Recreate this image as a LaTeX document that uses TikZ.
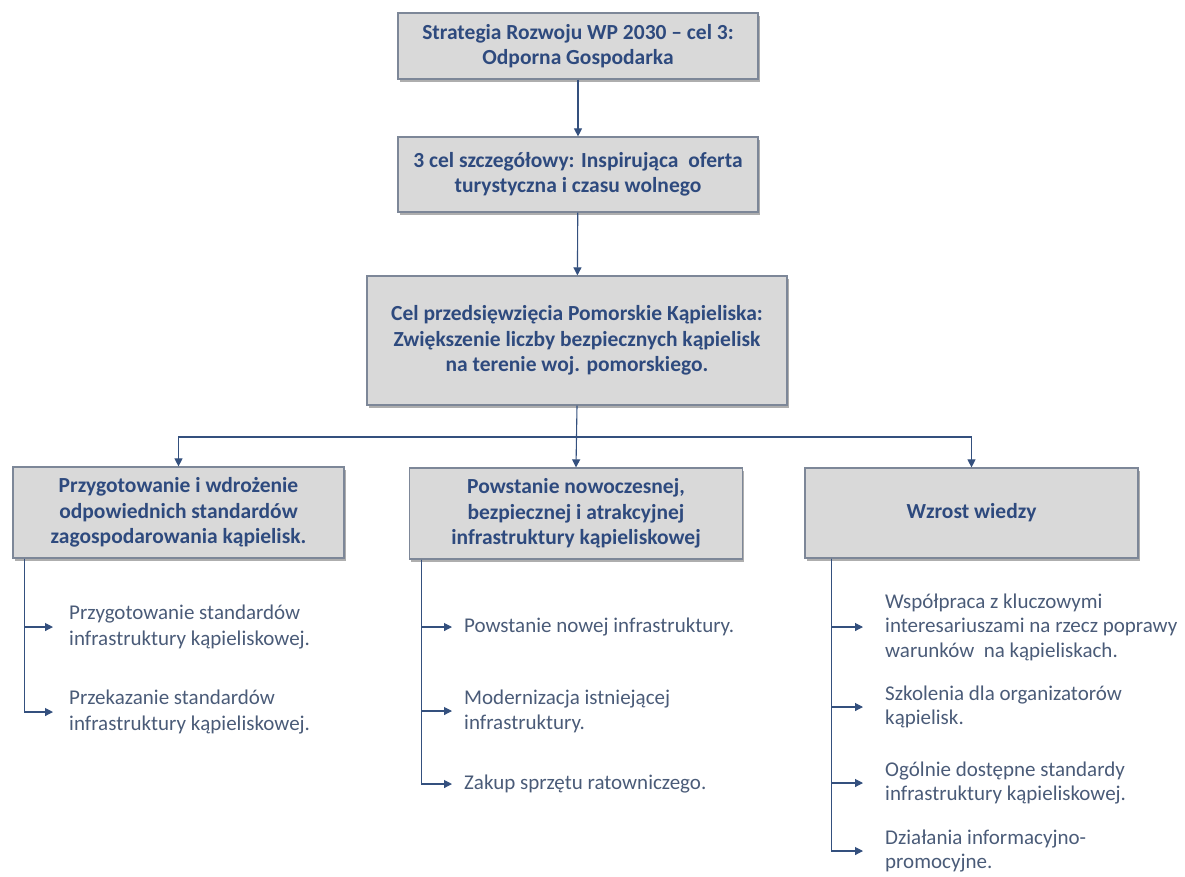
\documentclass[tikz,border=0pt]{standalone}
\usepackage{fontspec}
\setmainfont{Carlito}
\usetikzlibrary{shadows,arrows.meta}
\definecolor{boxtxt}{HTML}{2E4A7E}
\definecolor{itemtxt}{HTML}{4A5B78}
\definecolor{lineclr}{HTML}{34507E}
\definecolor{boxfill}{HTML}{D9D9D9}
\definecolor{boxdraw}{HTML}{7D8798}
\tikzset{
  box/.style={draw=boxdraw, line width=1.2pt, fill=boxfill, align=center,
    text=boxtxt, font=\fontsize{21.5}{25.5}\selectfont\bfseries, inner sep=0pt,
    drop shadow={shadow xshift=1.5pt, shadow yshift=-3pt, opacity=0.45, fill=black!70}},
  item/.style={anchor=west, align=left, text=itemtxt, inner xsep=16pt, inner ysep=0pt,
    font=\fontsize{21}{26}\selectfont},
  ritem/.style={item, inner xsep=22pt, font=\fontsize{21}{24.5}\selectfont},
  mitem/.style={item, inner xsep=12pt, font=\fontsize{21}{25}\selectfont},
  arr/.style={draw=lineclr, line width=1.1pt, -{Triangle[length=8pt,width=8pt]}}
}
\begin{document}
\begin{tikzpicture}[x=1pt,y=-1pt]
\useasboundingbox (0,0) rectangle (1185,876);
\node[box, minimum width=360pt, minimum height=66pt] (b1) at (578,46) {Strategia Rozwoju WP 2030 – cel 3:\\Odporna Gospodarka};
\node[box, minimum width=360pt, minimum height=75pt] (b2) at (578,174.5) {3 cel szczegółowy: Inspirująca\ \ oferta\\turystyczna i czasu wolnego};
\node[box, minimum width=420pt, minimum height=129pt] (b3) at (577,340.5) {Cel przedsięwzięcia Pomorskie Kąpieliska:\\Zwiększenie liczby bezpiecznych kąpielisk\\na terenie woj. pomorskiego.};
\node[box, minimum width=331pt, minimum height=91pt] (b4) at (178.5,512.5) {Przygotowanie i wdrożenie\\odpowiednich standardów\\zagospodarowania kąpielisk.};
\node[box, minimum width=333pt, minimum height=91pt] (b5) at (576,513.5) {Powstanie nowoczesnej,\\bezpiecznej i atrakcyjnej\\infrastruktury kąpieliskowej};
\node[box, minimum width=333pt, minimum height=90pt] (b6) at (971.5,513) {Wzrost wiedzy};
\coordinate (j) at (577,437);
\draw[arr] (b1) -- (b2);
\draw[arr] (b2) -- (b3);
\draw[arr] (b3.south) -- (b5.north);
\draw[arr] (b3.south |- j) -| (b4.north);
\draw[arr] (b3.south |- j) -| (b6.north);
% left items
\node[item] (l1) at (53,627) {Przygotowanie standardów\\infrastruktury kąpieliskowej.};
\node[item] (l2) at (53,712) {Przekazanie standardów\\infrastruktury kąpieliskowej.};
\coordinate (lv) at ([xshift=12pt]b4.south west);
\draw[arr] (lv) |- (l1.west);
\draw[arr] (lv) |- (l2.west);
% middle items
\node[mitem] (m1) at (452,627) {Powstanie nowej infrastruktury.};
\node[mitem] (m2) at (452,711) {Modernizacja istniejącej\\infrastruktury.};
\node[mitem] (m3) at (452,784) {Zakup sprzętu ratowniczego.};
\coordinate (mv) at ([xshift=13pt]b5.south west);
\draw[arr] (mv) |- (m1.west);
\draw[arr] (mv) |- (m2.west);
\draw[arr] (mv) |- (m3.west);
% right items
\node[ritem] (r1) at (863,627) {Współpraca z kluczowymi\\interesariuszami na rzecz poprawy\\warunków\ \ na kąpieliskach.};
\node[ritem] (r2) at (863,707) {Szkolenia dla organizatorów\\kąpielisk.};
\node[ritem] (r3) at (863,783) {Ogólnie dostępne standardy\\infrastruktury kąpieliskowej.};
\node[ritem] (r4) at (863,851) {Działania informacyjno-\\promocyjne.};
\coordinate (rv) at ([xshift=27pt]b6.south west);
\draw[arr] (rv) |- (r1.west);
\draw[arr] (rv) |- (r2.west);
\draw[arr] (rv) |- (r3.west);
\draw[arr] (rv) |- (r4.west);
\end{tikzpicture}
\end{document}
